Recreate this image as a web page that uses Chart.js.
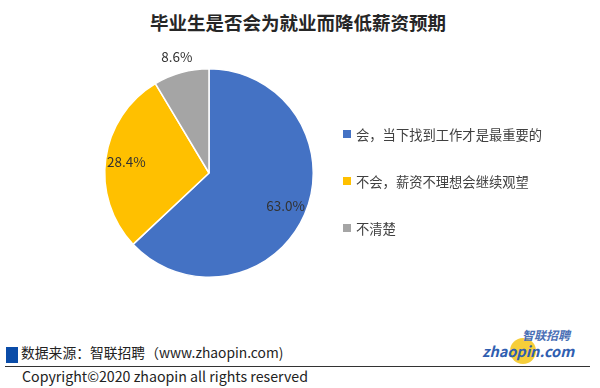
<!DOCTYPE html>
<html lang="zh">
<head>
  <meta charset="UTF-8">
  <title>毕业生是否会为就业而降低薪资预期</title>
  <script src="https://cdn.jsdelivr.net/npm/chart.js"></script>
  <style>
    body { margin: 0; background: #fff; font-family: "Noto Sans CJK SC", "Noto Sans", sans-serif; }
    #wrap { position: relative; width: 600px; height: 388px; overflow: hidden; }
    .title { position: absolute; left: 0; width: 596px; top: 9px; text-align: center; font-size: 18.5px; font-weight: bold; color: #262626; }
    #chartBox { position: absolute; left: 0; top: 40px; width: 420px; height: 250px; }
    .legend { position: absolute; left: 343px; top: 125px; font-size: 13.3px; color: #404040; }
    .legend div { height: 47px; display: flex; align-items: flex-start; }
    .legend span.sw { display: inline-block; width: 8px; height: 8px; margin: 5px 5px 0 0; }
    .src { position: absolute; left: 6px; top: 342px; font-size: 13.8px; color: #222; }
    .src .box { display: inline-block; width: 12px; height: 16px; background: #0a4ca8; vertical-align: -5px; margin-right: 3px; }
    .rule { position: absolute; left: 5px; top: 366px; width: 585px; height: 1px; background: #333; }
    .copy { position: absolute; left: 22px; top: 366px; font-size: 14.2px; color: #222; }
    .logo { position: absolute; left: 480px; top: 326px; width: 110px; height: 40px; }
    .logo .dot { position: absolute; left: 30px; top: 12px; width: 26px; height: 26px; border-radius: 50%; background: #f5c518; opacity: 0.85; }
    .logo .cn { position: absolute; left: 42px; top: 0; font-size: 12px; font-weight: bold; color: #4a6fb5; font-style: italic; }
    .logo .en { position: absolute; left: 2px; top: 14px; font-size: 14.5px; font-weight: bold; color: #2f5eb0; font-style: italic; }
  </style>
</head>
<body>
  <div id="wrap">
    <div class="title">毕业生是否会为就业而降低薪资预期</div>
    <div id="chartBox"><canvas id="pieChart"></canvas></div>
    <div class="legend" id="legend"></div>
    <div class="src"><span class="box"></span>数据来源：智联招聘（www.zhaopin.com)</div>
    <div class="rule"></div>
    <div class="copy">Copyright©2020 zhaopin all rights reserved</div>
    <div class="logo">
      <div class="dot"></div>
      <div class="cn">智联招聘</div>
      <div class="en">zhaopin.com</div>
    </div>
  </div>

  <script>
    const labels = ["会，当下找到工作才是最重要的", "不会，薪资不理想会继续观望", "不清楚"];
    const values = [63.0, 28.4, 8.6];
    const colors = ["#4472C4", "#FFC000", "#A5A5A5"];
    // label distance as fraction of radius (gray one sits outside the pie)
    const labelPos = [0.8, 0.8, 1.16];

    // html legend
    const legendEl = document.getElementById("legend");
    labels.forEach((l, i) => {
      const row = document.createElement("div");
      row.innerHTML = '<span class="sw" style="background:' + colors[i] + '"></span>' + l;
      legendEl.appendChild(row);
    });

    const pctLabels = {
      id: "pctLabels",
      afterDatasetsDraw(chart) {
        const ctx = chart.ctx;
        const meta = chart.getDatasetMeta(0);
        ctx.save();
        ctx.font = '13.5px "Noto Sans CJK SC", sans-serif';
        ctx.fillStyle = "#333333";
        ctx.textAlign = "center";
        ctx.textBaseline = "middle";
        meta.data.forEach((arc, i) => {
          const p = arc.getProps(["x", "y", "startAngle", "endAngle", "outerRadius"], true);
          const mid = (p.startAngle + p.endAngle) / 2;
          const r = p.outerRadius * labelPos[i];
          ctx.fillText(values[i].toFixed(1) + "%", p.x + Math.cos(mid) * r, p.y + Math.sin(mid) * r);
        });
        ctx.restore();
      }
    };

    new Chart(document.getElementById("pieChart"), {
      type: "pie",
      data: {
        labels: labels,
        datasets: [{
          data: values,
          backgroundColor: colors,
          borderColor: "#ffffff",
          borderWidth: 1.5,
        }],
      },
      options: {
        responsive: true,
        maintainAspectRatio: false,
        animation: false,
        layout: { padding: { left: 103, right: 105, top: 28, bottom: 12 } },
        plugins: {
          legend: { display: false },
          tooltip: { enabled: false },
        },
      },
      plugins: [pctLabels],
    });
  </script>
</body>
</html>
